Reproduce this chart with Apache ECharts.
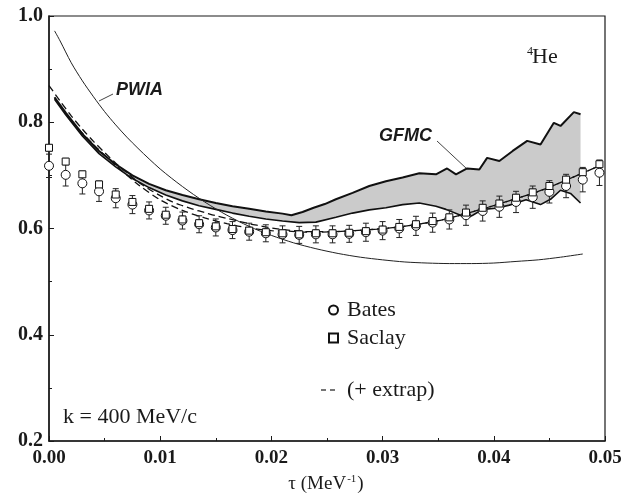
<!DOCTYPE html>
<html>
<head>
<meta charset="utf-8">
<script src="https://cdn.jsdelivr.net/npm/echarts@6/dist/echarts.min.js"></script>
<style>
  html, body { margin: 0; padding: 0; background: #fff; }
  #chart { width: 626px; height: 495px; }
</style>
</head>
<body>
<div id="chart"></div>
<script>
// measured points (tau in MeV^-1)
const tau = [0.0000, 0.0015, 0.0030, 0.0045, 0.0060, 0.0075, 0.0090, 0.0105, 0.0120, 0.0135,
             0.0150, 0.0165, 0.0180, 0.0195, 0.0210, 0.0225, 0.0240, 0.0255, 0.0270, 0.0285,
             0.0300, 0.0315, 0.0330, 0.0345, 0.0360, 0.0375, 0.0390, 0.0405, 0.0420, 0.0435,
             0.0450, 0.0465, 0.0480, 0.0495];
const bates = [0.718, 0.701, 0.685, 0.670, 0.657, 0.645, 0.634, 0.624, 0.615, 0.608,
               0.602, 0.597, 0.594, 0.591, 0.589, 0.588, 0.589, 0.589, 0.590, 0.593,
               0.596, 0.600, 0.605, 0.611, 0.617, 0.625, 0.633, 0.641, 0.650, 0.659,
               0.669, 0.680, 0.692, 0.705];
const batesErr = [0.022, 0.021, 0.020, 0.019, 0.018, 0.017, 0.016, 0.016, 0.016, 0.016,
                  0.016, 0.016, 0.016, 0.016, 0.016, 0.016, 0.016, 0.016, 0.016, 0.017,
                  0.017, 0.017, 0.018, 0.018, 0.018, 0.019, 0.019, 0.020, 0.020, 0.021,
                  0.021, 0.022, 0.023, 0.024];
const saclay = [0.752, 0.726, 0.702, 0.683, 0.664, 0.650, 0.637, 0.626, 0.617, 0.610,
                0.604, 0.599, 0.596, 0.593, 0.591, 0.589, 0.591, 0.591, 0.592, 0.595,
                0.598, 0.603, 0.608, 0.614, 0.621, 0.630, 0.639, 0.647, 0.658, 0.668,
                0.680, 0.692, 0.706, 0.721];
const saclayErr = 0.006;

// curves [tau, value]
const pwia = [[0.0005, 0.972], [0.001, 0.953], [0.002, 0.912], [0.003, 0.878], [0.004, 0.848],
  [0.005, 0.820], [0.006, 0.795], [0.007, 0.772], [0.008, 0.751], [0.009, 0.731], [0.010, 0.712],
  [0.011, 0.695], [0.012, 0.679], [0.013, 0.664], [0.014, 0.650], [0.015, 0.637], [0.016, 0.625],
  [0.017, 0.614], [0.018, 0.604], [0.019, 0.595], [0.020, 0.587], [0.022, 0.573], [0.024, 0.562],
  [0.026, 0.553], [0.028, 0.546], [0.030, 0.541], [0.032, 0.537], [0.034, 0.535], [0.036, 0.534],
  [0.038, 0.534], [0.040, 0.535], [0.042, 0.538], [0.044, 0.541], [0.046, 0.546], [0.048, 0.552]];

const gfmcHi = [[0.0005, 0.847], [0.0015, 0.818], [0.003, 0.778], [0.0045, 0.746], [0.006, 0.721],
  [0.0075, 0.700], [0.009, 0.684], [0.0105, 0.672], [0.012, 0.663], [0.0135, 0.655], [0.015, 0.648],
  [0.0165, 0.642], [0.018, 0.637], [0.0195, 0.632], [0.021, 0.628], [0.0218, 0.625], [0.0228, 0.631],
  [0.0238, 0.639], [0.0248, 0.646], [0.0258, 0.655], [0.0273, 0.667], [0.0288, 0.680], [0.0303, 0.689],
  [0.0318, 0.696], [0.0333, 0.704], [0.0348, 0.702], [0.0358, 0.713], [0.0366, 0.702], [0.0376, 0.713],
  [0.0387, 0.711], [0.0394, 0.733], [0.0405, 0.727], [0.0417, 0.746], [0.0430, 0.765], [0.0442, 0.758],
  [0.0454, 0.799], [0.0460, 0.793], [0.0472, 0.819], [0.0478, 0.815]];
const gfmcLo = [[0.0005, 0.843], [0.0015, 0.814], [0.003, 0.774], [0.0045, 0.741], [0.006, 0.716],
  [0.0075, 0.694], [0.009, 0.677], [0.0105, 0.663], [0.012, 0.652], [0.0135, 0.643], [0.015, 0.636],
  [0.0165, 0.629], [0.018, 0.623], [0.0195, 0.618], [0.021, 0.614], [0.0225, 0.611], [0.024, 0.612],
  [0.0258, 0.621], [0.0273, 0.629], [0.0288, 0.635], [0.0303, 0.639], [0.0318, 0.645], [0.0333, 0.648],
  [0.0348, 0.642], [0.0357, 0.636], [0.0369, 0.626], [0.0375, 0.619], [0.0381, 0.625], [0.0390, 0.636],
  [0.0402, 0.638], [0.0414, 0.644], [0.0429, 0.654], [0.0442, 0.645], [0.0451, 0.655], [0.0460, 0.672],
  [0.0469, 0.666], [0.0478, 0.648]];

const extrapA = [[0, 0.869], [0.001, 0.840], [0.002, 0.812], [0.003, 0.787], [0.004, 0.764],
  [0.005, 0.743], [0.006, 0.723], [0.007, 0.705], [0.008, 0.688], [0.009, 0.674], [0.010, 0.662],
  [0.011, 0.651], [0.012, 0.643], [0.013, 0.636], [0.014, 0.630], [0.015, 0.624], [0.016, 0.619],
  [0.017, 0.614], [0.018, 0.609], [0.019, 0.605], [0.020, 0.601], [0.0215, 0.597], [0.0235, 0.594],
  [0.0255, 0.594], [0.0275, 0.596], [0.0295, 0.599], [0.0315, 0.603], [0.0335, 0.609], [0.0355, 0.617],
  [0.0375, 0.628], [0.0395, 0.640], [0.0415, 0.653], [0.0435, 0.666], [0.0455, 0.682], [0.0475, 0.700],
  [0.0495, 0.718]];
const extrapB = [[0.0005, 0.845], [0.002, 0.803], [0.004, 0.758], [0.006, 0.719], [0.008, 0.683],
  [0.010, 0.654], [0.012, 0.634], [0.014, 0.620], [0.016, 0.609], [0.018, 0.601], [0.020, 0.596],
  [0.0215, 0.595], [0.0235, 0.593], [0.0255, 0.594], [0.0275, 0.596], [0.0295, 0.599], [0.0315, 0.603],
  [0.0335, 0.609], [0.0355, 0.617], [0.0375, 0.628], [0.0395, 0.640], [0.0415, 0.653], [0.0435, 0.666],
  [0.0455, 0.682], [0.0475, 0.700], [0.0495, 0.718]];

const xTicks = ['0.00', '0.01', '0.02', '0.03', '0.04', '0.05'];
const yTicks = ['0.2', '0.4', '0.6', '0.8', '1.0'];

const serif = 'Liberation Serif';
const ink = '#1a1a1a';

function errorBars(vals, errs) {
  return tau.map((t, i) => [t, vals[i], Array.isArray(errs) ? errs[i] : errs]);
}

function renderErr(params, api) {
  const t = api.value(0), v = api.value(1), e = api.value(2);
  const top = api.coord([t, v + e]);
  const bot = api.coord([t, v - e]);
  const w = 3;
  const st = { stroke: '#222', lineWidth: 1 };
  return {
    type: 'group',
    children: [
      { type: 'line', shape: { x1: top[0], y1: top[1], x2: bot[0], y2: bot[1] }, style: st },
      { type: 'line', shape: { x1: top[0] - w, y1: top[1], x2: top[0] + w, y2: top[1] }, style: st },
      { type: 'line', shape: { x1: bot[0] - w, y1: bot[1], x2: bot[0] + w, y2: bot[1] }, style: st }
    ]
  };
}

const chart = echarts.init(document.getElementById('chart'));

const option = {
  animation: false,
  backgroundColor: '#fff',
  grid: { left: 49, right: 21, top: 16, bottom: 54, show: true, borderColor: ink, borderWidth: 1.2 },
  xAxis: {
    type: 'value', min: 0, max: 0.05, interval: 0.01,
    axisLine: { lineStyle: { color: ink, width: 1.5 } },
    axisTick: { inside: true, length: 5, lineStyle: { color: ink } },
    minorTick: { show: true, splitNumber: 2, length: 3, lineStyle: { color: ink } },
    splitLine: { show: false },
    axisLabel: {
      margin: 8, color: ink, fontFamily: serif, fontWeight: 'bold', fontSize: 19,
      formatter: v => xTicks[Math.round(v * 100)]
    }
  },
  yAxis: {
    type: 'value', min: 0.2, max: 1.0, interval: 0.2,
    axisLine: { lineStyle: { color: ink, width: 1.5 } },
    axisTick: { inside: true, length: 5, lineStyle: { color: ink } },
    minorTick: { show: true, splitNumber: 2, length: 3, lineStyle: { color: ink } },
    splitLine: { show: false },
    axisLabel: {
      margin: 6, color: ink, fontFamily: serif, fontWeight: 'bold', fontSize: 20,
      formatter: v => yTicks[Math.round((v - 0.2) * 5)]
    }
  },
  legend: {
    data: ['Bates', 'Saclay'], orient: 'vertical', left: 323, top: 294,
    itemWidth: 9, itemHeight: 9, itemGap: 6, selectedMode: false,
    textStyle: { fontFamily: serif, fontSize: 22, color: ink, lineHeight: 22, padding: [0, 0, 0, 4] }
  },
  graphic: [
    { type: 'text', x: 527, y: 52, style: { text: '4', font: '12px "Liberation Serif"', fill: ink, textVerticalAlign: 'middle' } },
    { type: 'text', x: 532, y: 57, style: { text: 'He', font: '22px "Liberation Serif"', fill: ink, textVerticalAlign: 'middle' } },
    { type: 'text', x: 63, y: 417, style: { text: 'k = 400 MeV/c', font: '22px "Liberation Serif"', fill: ink, textVerticalAlign: 'middle' } },
    { type: 'text', x: 116, y: 90, style: { text: 'PWIA', font: 'italic bold 18px "Liberation Sans"', fill: ink, textVerticalAlign: 'middle' } },
    { type: 'line', shape: { x1: 99, y1: 101, x2: 113, y2: 94 }, style: { stroke: '#444', lineWidth: 1 } },
    { type: 'text', x: 379, y: 136, style: { text: 'GFMC', font: 'italic bold 18px "Liberation Sans"', fill: ink, textVerticalAlign: 'middle' } },
    { type: 'line', shape: { x1: 437, y1: 141, x2: 482, y2: 183 }, style: { stroke: '#444', lineWidth: 1 } },
    // legend entry for the dashed curves
    { type: 'line', shape: { x1: 321, y1: 390, x2: 326, y2: 390 }, style: { stroke: ink, lineWidth: 1.2 } },
    { type: 'line', shape: { x1: 330, y1: 390, x2: 335, y2: 390 }, style: { stroke: ink, lineWidth: 1.2 } },
    { type: 'text', x: 347, y: 390, style: { text: '(+ extrap)', font: '22px "Liberation Serif"', fill: ink, textVerticalAlign: 'middle' } },
    {
      type: 'text', x: 326, y: 484,
      style: {
        text: '{a|τ (MeV}{s|-1}{a|)}', fill: ink, textAlign: 'center', textVerticalAlign: 'middle',
        rich: {
          a: { fontFamily: serif, fontSize: 19, verticalAlign: 'bottom', fill: ink },
          s: { fontFamily: serif, fontSize: 11, verticalAlign: 'bottom', padding: [0, 1, 9, 1], fill: ink }
        }
      }
    }
  ],
  series: [
    {
      name: 'GFMC band', type: 'custom', z: 1, silent: true,
      data: [[0.02, 0.7]],
      renderItem: function (params, api) {
        const pts = gfmcHi.map(p => api.coord(p))
          .concat(gfmcLo.slice().reverse().map(p => api.coord(p)));
        return { type: 'polygon', shape: { points: pts }, style: { fill: '#cbcbcb' } };
      }
    },
    {
      name: 'GFMC hi', type: 'line', data: gfmcHi, symbol: 'none', z: 2, silent: true,
      lineStyle: { color: '#111', width: 2 }
    },
    {
      name: 'GFMC lo', type: 'line', data: gfmcLo, symbol: 'none', z: 2, silent: true,
      lineStyle: { color: '#111', width: 1.6 }
    },
    {
      name: 'PWIA', type: 'line', data: pwia, symbol: 'none', smooth: 0.3, z: 2, silent: true,
      lineStyle: { color: '#222', width: 1 }
    },
    {
      name: 'extrap A', type: 'line', data: extrapA, symbol: 'none', smooth: 0.3, z: 3, silent: true,
      lineStyle: { color: '#111', width: 1.3, type: [7, 4] }
    },
    {
      name: 'extrap B', type: 'line', data: extrapB, symbol: 'none', smooth: 0.3, z: 3, silent: true,
      lineStyle: { color: '#111', width: 1.3, type: [7, 4], dashOffset: 5 }
    },
    {
      name: 'Bates err', type: 'custom', z: 4, silent: true,
      encode: { x: 0, y: 1 }, data: errorBars(bates, batesErr), renderItem: renderErr
    },
    {
      name: 'Saclay err', type: 'custom', z: 4, silent: true,
      encode: { x: 0, y: 1 }, data: errorBars(saclay, saclayErr), renderItem: renderErr
    },
    {
      name: 'Bates', type: 'scatter', z: 5, symbol: 'circle', symbolSize: 9,
      data: tau.map((t, i) => [t, bates[i]]),
      itemStyle: { color: '#fff', borderColor: '#111', borderWidth: 1, opacity: 1 }
    },
    {
      name: 'Saclay', type: 'scatter', z: 6, symbol: 'rect', symbolSize: [7, 7],
      data: tau.map((t, i) => [t, saclay[i]]),
      itemStyle: { color: '#fff', borderColor: '#111', borderWidth: 1, opacity: 1 }
    }
  ]
};

chart.setOption(option);
</script>
</body>
</html>
